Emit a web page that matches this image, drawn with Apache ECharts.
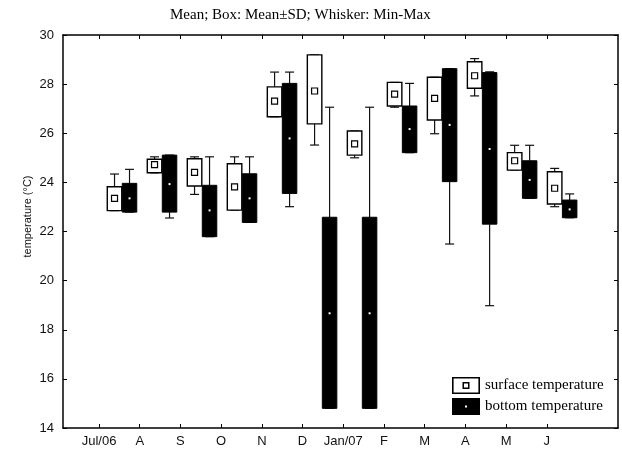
<!DOCTYPE html>
<html>
<head>
<meta charset="utf-8">
<script src="https://cdn.jsdelivr.net/npm/echarts@6/dist/echarts.min.js"></script>
<style>html,body{margin:0;padding:0;background:#fff}#c{width:622px;height:452px}</style>
</head>
<body>
<div id="c"></div>
<script>
const months = ['Jul/06','A','S','O','N','D','Jan/07','F','M','A','M','J'];
const yTicks = [14,16,18,20,22,24,26,28,30];

const surfMean = [23.35,24.72,24.41,23.82,27.31,27.72,25.57,27.59,27.42,28.34,24.88,23.76];
const surfLow  = [22.85,24.39,23.85,22.87,26.67,26.38,25.11,27.11,26.54,27.83,24.50,23.12];
const surfHigh = [23.82,24.94,24.96,24.76,27.89,29.19,26.09,28.07,28.28,28.91,25.21,24.43];
const surfMin  = [22.85,24.39,23.51,22.87,26.67,25.52,25.00,27.06,25.98,27.52,24.50,23.01];
const surfMax  = [24.34,25.04,25.04,25.04,28.49,29.19,26.09,28.07,28.28,29.04,25.51,24.57];

const botMean = [23.35,23.93,22.86,23.35,25.79,18.67,18.67,26.17,26.34,25.36,24.10,22.90];
const botLow  = [22.79,22.79,21.79,22.37,23.55,14.80,14.80,25.21,24.03,22.30,23.35,22.56];
const botHigh = [23.96,25.11,23.88,24.35,28.03,22.58,22.58,27.11,28.63,28.47,24.88,23.28];
const botMin  = [22.79,22.55,21.79,22.37,23.01,14.80,14.80,25.21,21.49,18.98,23.35,22.56];
const botMax  = [24.53,25.11,25.04,25.04,28.49,27.06,27.06,28.03,28.63,28.50,25.51,23.53];

// layout of the x scale (ticks at integer month indices)
const X_MIN = -0.885, X_MAX = 12.75;
const pairPos = k => 0.565 + 0.983 * k;

function build(mean, low, high, mn, mx) {
  return months.map((m, k) => [pairPos(k), mn[k], low[k], mean[k], high[k], mx[k]]);
}

function makeRender(kind) {
  return function (params, api) {
    const x = api.value(0);
    const base = api.coord([x, api.value(3)]);
    const cx = base[0] + (kind === 's' ? -7.5 : 7.5);
    const yMin = api.coord([x, api.value(1)])[1];
    const yLow = api.coord([x, api.value(2)])[1];
    const yMean = base[1];
    const yHigh = api.coord([x, api.value(4)])[1];
    const yMax = api.coord([x, api.value(5)])[1];
    const w = 14.5, cap = 4.5;
    const lineStyle = { stroke: '#111', lineWidth: 1.2, fill: null };
    const children = [];
    if (yMax < yHigh - 0.5) {
      children.push({ type: 'line', shape: { x1: cx, y1: yHigh, x2: cx, y2: yMax }, style: lineStyle });
    }
    children.push({ type: 'line', shape: { x1: cx - cap, y1: yMax, x2: cx + cap, y2: yMax }, style: lineStyle });
    if (yMin > yLow + 0.5) {
      children.push({ type: 'line', shape: { x1: cx, y1: yLow, x2: cx, y2: yMin }, style: lineStyle });
    }
    children.push({ type: 'line', shape: { x1: cx - cap, y1: yMin, x2: cx + cap, y2: yMin }, style: lineStyle });
    if (kind === 's') {
      children.push({ type: 'rect', shape: { x: cx - w / 2, y: yHigh, width: w, height: yLow - yHigh },
        style: { fill: '#fff', stroke: '#000', lineWidth: 1.4 } });
      children.push({ type: 'rect', shape: { x: cx - 3, y: yMean - 3, width: 6, height: 6 },
        style: { fill: '#fff', stroke: '#000', lineWidth: 1.2 } });
    } else {
      children.push({ type: 'rect', shape: { x: cx - w / 2, y: yHigh, width: w, height: yLow - yHigh },
        style: { fill: '#000', stroke: '#000', lineWidth: 1 } });
      children.push({ type: 'rect', shape: { x: cx - 1, y: yMean - 1, width: 2, height: 2 },
        style: { fill: '#fff' } });
    }
    return { type: 'group', children };
  };
}

const surfIcon = 'path://M0,0H28V17H0Z M1.6,1.6V15.4H26.4V1.6Z M10.5,5H17.5V12H10.5Z M12,6.5V10.5H16V6.5Z';
const botIcon = 'path://M0,0H28V17H0Z M13,7.5V9.5H15V7.5Z';

const chart = echarts.init(document.getElementById('c'), null, { renderer: 'canvas' });
const axisLine = { show: true, onZero: false, lineStyle: { color: '#000', width: 1.5 } };
const tickCommon = { show: true, inside: true, length: 4, lineStyle: { color: '#000', width: 1 } };
const tickIdx = months.map((m, k) => k);

chart.setOption({
  animation: false,
  backgroundColor: '#fff',
  title: {
    text: 'Mean; Box: Mean±SD; Whisker: Min-Max',
    left: 165, top: 3,
    textStyle: { fontFamily: 'Liberation Serif', fontSize: 15, fontWeight: 'normal', color: '#000' }
  },
  legend: {
    orient: 'vertical', left: 447, top: 372,
    itemWidth: 28, itemHeight: 17, itemGap: 4,
    textStyle: { fontFamily: 'Liberation Serif', fontSize: 15, color: '#000' },
    data: [
      { name: 'surface temperature', icon: surfIcon },
      { name: 'bottom temperature', icon: botIcon }
    ]
  },
  grid: { left: 63, right: 4, top: 35, bottom: 24 },
  xAxis: [
    {
      type: 'value', position: 'bottom', min: X_MIN, max: X_MAX,
      axisLine, splitLine: { show: false },
      axisTick: Object.assign({ customValues: tickIdx }, tickCommon),
      axisLabel: {
        customValues: tickIdx, margin: 7,
        fontFamily: 'Liberation Sans', fontSize: 13, color: '#111',
        formatter: v => months[Math.round(v)]
      }
    },
    {
      type: 'value', position: 'top', min: X_MIN, max: X_MAX,
      axisLine, splitLine: { show: false },
      axisTick: Object.assign({ customValues: tickIdx }, tickCommon),
      axisLabel: { show: false }
    }
  ],
  yAxis: [
    {
      type: 'value', position: 'left', min: yTicks[0], max: yTicks[yTicks.length - 1], interval: 2,
      axisLine, splitLine: { show: false },
      axisTick: tickCommon,
      axisLabel: { margin: 9, fontFamily: 'Liberation Sans', fontSize: 13, color: '#111' },
      name: 'temperature (°C)', nameLocation: 'middle', nameGap: 30, nameMoveOverlap: false,
      nameTextStyle: { fontFamily: 'Liberation Sans', fontSize: 11, color: '#111', padding: [0, 0, 0, 30] }
    },
    {
      type: 'value', position: 'right', min: yTicks[0], max: yTicks[yTicks.length - 1], interval: 2,
      axisLine, splitLine: { show: false },
      axisTick: tickCommon, axisLabel: { show: false }
    }
  ],
  series: [
    {
      name: 'surface temperature', type: 'custom', xAxisIndex: 0, yAxisIndex: 0,
      itemStyle: { color: '#000' },
      renderItem: makeRender('s'),
      encode: { x: 0, y: [1, 2, 3, 4, 5] },
      data: build(surfMean, surfLow, surfHigh, surfMin, surfMax),
      z: 2
    },
    {
      name: 'bottom temperature', type: 'custom', xAxisIndex: 0, yAxisIndex: 0,
      itemStyle: { color: '#000' },
      renderItem: makeRender('b'),
      encode: { x: 0, y: [1, 2, 3, 4, 5] },
      data: build(botMean, botLow, botHigh, botMin, botMax),
      z: 3
    }
  ]
});
</script>
</body>
</html>
